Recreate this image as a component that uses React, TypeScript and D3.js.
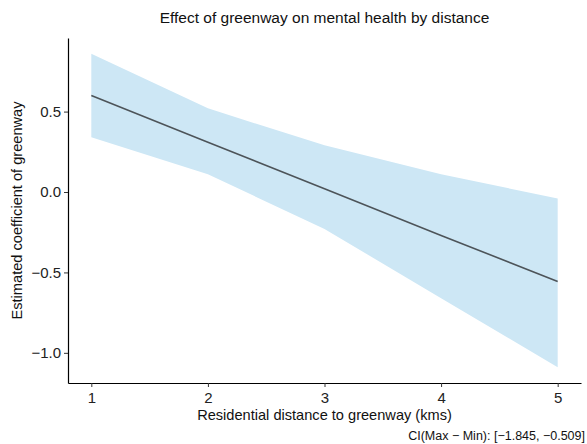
import * as d3 from 'd3';
import React, { useEffect, useRef } from 'react';

const distance = [1, 2, 3, 4, 5];
const estimate = [0.6, 0.31, 0.02, -0.27, -0.556];
const upper = [0.86, 0.52, 0.29, 0.11, -0.04];
const lower = [0.34, 0.11, -0.23, -0.66, -1.09];
const xTicks = [1, 2, 3, 4, 5];
const yTicks = [-1.0, -0.5, 0.0, 0.5];

function App() {
    const ref = useRef(null);

    useEffect(() => {
        const svg = d3.select(ref.current);
        svg.selectAll('*').remove();

        const margin = { top: 38, right: 6, bottom: 61, left: 68 };
        const width = 587 - margin.left - margin.right;
        const height = 444 - margin.top - margin.bottom;
        const font = 'Liberation Sans, Arial, sans-serif';

        const rows = distance.map((d, i) => ({ x: d, y: estimate[i], lo: lower[i], hi: upper[i] }));

        const x = d3.scaleLinear().domain([0.8, 5.2]).range([0, width]);
        const yMin = d3.min(lower);
        const yMax = d3.max(upper);
        const pad = (yMax - yMin) * 0.05;
        const y = d3.scaleLinear().domain([yMin - pad, yMax + pad]).range([height, 0]);

        const g = svg.append('g')
            .attr('transform', `translate(${margin.left},${margin.top})`);

        g.append('path')
            .datum(rows)
            .attr('fill', '#cde7f5')
            .attr('d', d3.area().x(d => x(d.x)).y0(d => y(d.lo)).y1(d => y(d.hi)));

        g.append('path')
            .datum(rows)
            .attr('fill', 'none')
            .attr('stroke', '#4d5459')
            .attr('stroke-width', 1.6)
            .attr('d', d3.line().x(d => x(d.x)).y(d => y(d.y)));

        const xAxis = g.append('g')
            .attr('transform', `translate(0,${height})`)
            .call(d3.axisBottom(x).tickValues(xTicks).tickFormat(d3.format('d')).tickSize(4).tickSizeOuter(0));

        const yAxis = g.append('g')
            .call(d3.axisLeft(y).tickValues(yTicks).tickFormat(d3.format('.1f')).tickSize(4).tickSizeOuter(0));

        [xAxis, yAxis].forEach(a => {
            a.select('.domain').attr('stroke', '#000').attr('stroke-width', 1.2);
            a.selectAll('.tick line').attr('stroke', '#333');
            a.selectAll('.tick text')
                .attr('fill', '#222')
                .style('font-family', font)
                .style('font-size', '15px');
        });
        xAxis.selectAll('.tick text').attr('dy', '0.85em');
        yAxis.selectAll('.tick text').attr('x', -7).text(d => d3.format('.1f')(d).replace('-', '\u2212'));

        svg.append('text')
            .attr('x', margin.left + width / 2)
            .attr('y', 23)
            .attr('text-anchor', 'middle')
            .style('font-family', font)
            .style('font-size', '15.5px')
            .attr('fill', '#111')
            .text('Effect of greenway on mental health by distance');

        svg.append('text')
            .attr('x', margin.left + width / 2)
            .attr('y', 420)
            .attr('text-anchor', 'middle')
            .style('font-family', font)
            .style('font-size', '14.6px')
            .attr('fill', '#111')
            .text('Residential distance to greenway (kms)');

        svg.append('text')
            .attr('transform', `translate(22,${margin.top + height / 2}) rotate(-90)`)
            .attr('text-anchor', 'middle')
            .style('font-family', font)
            .style('font-size', '14.6px')
            .attr('fill', '#111')
            .text('Estimated coefficient of greenway');

        svg.append('text')
            .attr('x', 585)
            .attr('y', 440)
            .attr('text-anchor', 'end')
            .style('font-family', font)
            .style('font-size', '12.5px')
            .attr('fill', '#111')
            .text('CI(Max \u2212 Min): [\u22121.845, \u22120.509]');
    }, []);

    return (
        <svg ref={ref} width={587} height={444}
            style={{ position: 'absolute', left: 0, top: 0, background: '#fff' }}></svg>
    );
}

export default App;
